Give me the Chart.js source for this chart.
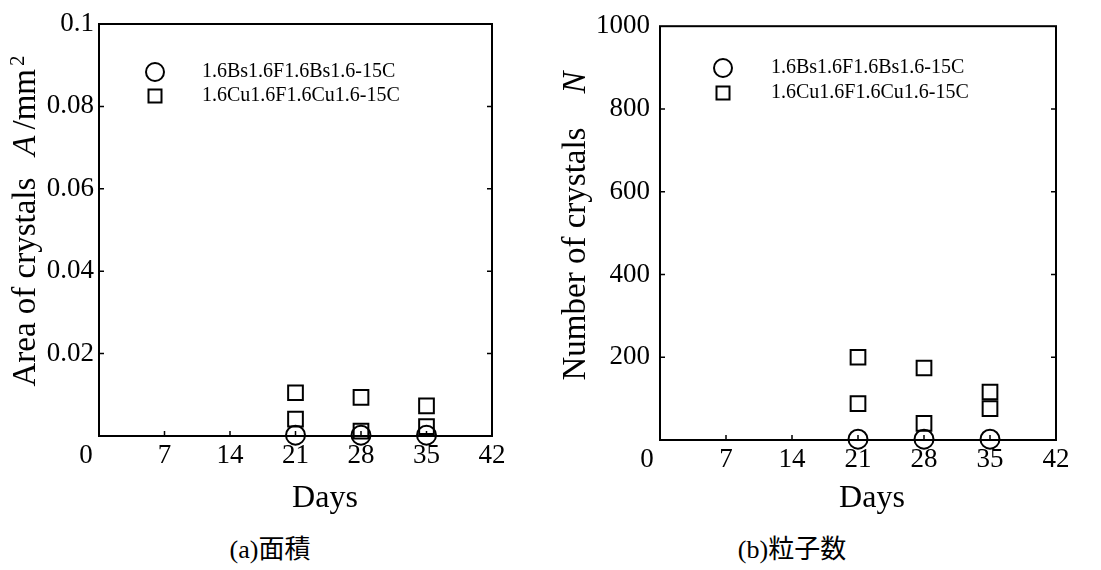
<!DOCTYPE html>
<html>
<head>
<meta charset="utf-8">
<script src="https://cdn.jsdelivr.net/npm/chart.js@4.4.0/dist/chart.umd.min.js"></script>
<style>
body { margin: 0; background: #fff; width: 1101px; height: 570px; position: relative; overflow: hidden; }
.box { position: absolute; top: 0; height: 530px; }
.cap { position: absolute; top: 535px; font: 26px "Liberation Serif", "Noto Sans CJK JP"; line-height: 30px; transform: translateX(-50%); white-space: nowrap; }
</style>
</head>
<body>
<div class="box" style="left:0;width:550px"><canvas id="chartA" width="550" height="530"></canvas></div>
<div class="box" style="left:550px;width:551px"><canvas id="chartN" width="551" height="530"></canvas></div>
<div class="cap" style="left:270px">(a)面積</div>
<div class="cap" style="left:792px">(b)粒子数</div>
<script>
// dados
const days = [21, 28, 35];
const xTicks = [0, 7, 14, 21, 28, 35, 42];
const nomes = ['1.6Bs1.6F1.6Bs1.6-15C', '1.6Cu1.6F1.6Cu1.6-15C'];

const areaBs = [0.0002, 0.0002, 0.0002];
const areaCu1 = [0.0105, 0.0094, 0.0073];
const areaCu2 = [0.0041, 0.0012, 0.0023];
const areaTicks = [0, 0.02, 0.04, 0.06, 0.08, 0.1];

const numBs = [2, 2, 2];
const numCu1 = [200, 174, 116];
const numCu2 = [88, 40, 76];
const numTicks = [0, 200, 400, 600, 800, 1000];

const serif = '"Liberation Serif", "Times New Roman", serif';

function pontos(xs, ys) {
    return xs.map((x, i) => ({x: x, y: ys[i]}));
}

function desenhaPartes(ctx, partes, cx, cy) {
    // mede tudo primeiro para centralizar
    let total = 0;
    partes.forEach(p => {
        ctx.font = p.f;
        p.w = ctx.measureText(p.t).width;
        total += (p.gap || 0) + p.w;
    });
    ctx.save();
    ctx.translate(cx, cy);
    ctx.rotate(-Math.PI / 2);
    ctx.textAlign = 'left';
    ctx.textBaseline = 'alphabetic';
    let x = -total / 2;
    partes.forEach(p => {
        x += p.gap || 0;
        ctx.font = p.f;
        ctx.fillText(p.t, x, p.dy || 0);
        x += p.w;
    });
    ctx.restore();
}

const moldura = {
    id: 'moldura',
    afterDraw(chart, args, o) {
        const ctx = chart.ctx;
        const a = chart.chartArea;
        const sx = chart.scales.x;
        const sy = chart.scales.y;
        ctx.save();
        ctx.strokeStyle = '#000';
        ctx.fillStyle = '#000';
        ctx.lineWidth = 2;
        ctx.strokeRect(a.left, a.top, a.right - a.left, a.bottom - a.top);

        ctx.lineWidth = 1.5;
        ctx.beginPath();
        sx.ticks.forEach(t => {
            if (t.value > sx.min && t.value < sx.max) {
                const p = sx.getPixelForValue(t.value);
                ctx.moveTo(p, a.bottom);
                ctx.lineTo(p, a.bottom - 5);
            }
        });
        sy.ticks.forEach(t => {
            if (t.value > sy.min && t.value < sy.max) {
                const p = sy.getPixelForValue(t.value);
                ctx.moveTo(a.left, p);
                ctx.lineTo(a.left + 5, p);
                ctx.moveTo(a.right, p);
                ctx.lineTo(a.right - 5, p);
            }
        });
        ctx.stroke();

        // o "0" da origem fica deslocado para a esquerda
        ctx.font = '27px ' + serif;
        ctx.textAlign = 'center';
        ctx.textBaseline = 'middle';
        ctx.fillText('0', o.zeroX, a.bottom + 4 + 16.2);

        ctx.font = '32px ' + serif;
        ctx.textBaseline = 'alphabetic';
        ctx.fillText('Days', o.daysX, 507);

        desenhaPartes(ctx, o.titulo, o.tituloX, o.tituloY);

        // legenda
        ctx.lineWidth = 2;
        ctx.font = '20px ' + serif;
        ctx.textAlign = 'left';
        ctx.textBaseline = 'middle';
        chart.data.datasets.forEach((d, i) => {
            const y = o.legY + i * o.legDy;
            ctx.beginPath();
            if (d.pointStyle === 'circle') {
                ctx.arc(o.legX, y, 9, 0, Math.PI * 2);
            } else {
                ctx.rect(o.legX - 6.5, y - 6.5, 13, 13);
            }
            ctx.stroke();
            ctx.fillText(d.label, o.textoX, y);
        });
        ctx.restore();
    }
};

function grafico(id, bs, cu, yTicks, yFmt, larguraY, alturaX, dirPad, padLabel, deco) {
    const config = {
        type: 'scatter',
        data: {
            datasets: [{
                label: nomes[0],
                data: pontos(days, bs),
                pointStyle: 'circle',
                pointRadius: 9.5,
                pointHoverRadius: 9.5,
                borderColor: '#000',
                backgroundColor: 'rgba(0,0,0,0)',
                borderWidth: 2,
                clip: false
            }, {
                label: nomes[1],
                data: pontos(days, cu[0]).concat(pontos(days, cu[1])),
                pointStyle: 'rect',
                pointRadius: 10.4,
                pointHoverRadius: 10.4,
                borderColor: '#000',
                backgroundColor: 'rgba(0,0,0,0)',
                borderWidth: 2,
                clip: false
            }]
        },
        options: {
            responsive: false,
            animation: false,
            events: [],
            layout: {padding: {left: 0, top: 24, right: dirPad, bottom: 0}},
            plugins: {
                legend: {display: false},
                tooltip: {enabled: false},
                moldura: deco
            },
            scales: {
                x: {
                    type: 'linear',
                    min: 0,
                    max: 42,
                    afterBuildTicks: s => { s.ticks = xTicks.map(v => ({value: v})); },
                    afterFit: s => { s.height = alturaX; },
                    grid: {display: false, drawTicks: false},
                    border: {display: false},
                    ticks: {
                        padding: 4,
                        color: '#000',
                        maxRotation: 0,
                        font: {family: serif, size: 27},
                        callback: v => v === 0 ? '' : String(v)
                    }
                },
                y: {
                    type: 'linear',
                    min: yTicks[0],
                    max: yTicks[yTicks.length - 1],
                    afterBuildTicks: s => { s.ticks = yTicks.map(v => ({value: v})); },
                    afterFit: s => { s.width = larguraY; },
                    grid: {display: false, drawTicks: false},
                    border: {display: false},
                    ticks: {
                        padding: padLabel,
                        color: '#000',
                        font: {family: serif, size: 27},
                        callback: v => v === 0 ? '' : yFmt(v)
                    }
                }
            }
        },
        plugins: [moldura]
    };
    return new Chart(document.getElementById(id), config);
}

grafico('chartA', areaBs, [areaCu1, areaCu2], areaTicks, v => String(+v.toFixed(2)),
    99, 94, 58, 5, {
        zeroX: 86, daysX: 325, tituloX: 35, tituloY: 221,
        legX: 155, legY: 72, legDy: 24, textoX: 202,
        titulo: [
            {t: 'Area of crystals', f: '33px ' + serif},
            {t: 'A', f: 'italic 33px ' + serif, gap: 22},
            {t: '/mm', f: '33px ' + serif, gap: 6},
            {t: '2', f: '21px ' + serif, dy: -11, gap: 3}
        ]
    });

grafico('chartN', numBs, [numCu1, numCu2], numTicks, v => String(v),
    110, 90, 45, 10, {
        zeroX: 97, daysX: 322, tituloX: 35, tituloY: 226,
        legX: 173, legY: 68, legDy: 25, textoX: 221,
        titulo: [
            {t: 'Number of crystals', f: '33px ' + serif},
            {t: 'N', f: 'italic 33px ' + serif, gap: 34}
        ]
    });
</script>
</body>
</html>
